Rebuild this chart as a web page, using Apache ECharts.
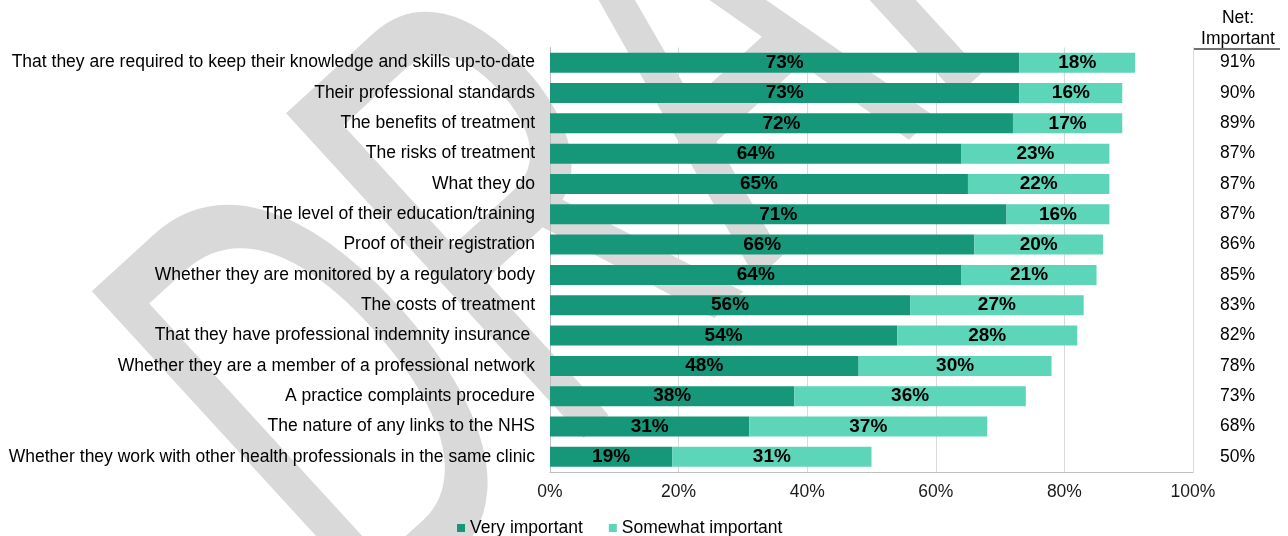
<!DOCTYPE html>
<html>
<head>
<meta charset="utf-8">
<script src="https://cdn.jsdelivr.net/npm/echarts@6/dist/echarts.min.js"></script>
<style>
  html, body { margin: 0; padding: 0; background: #ffffff; }
  #chart { width: 1288px; height: 536px; }
</style>
</head>
<body>
<div id="chart"></div>
<script>
// Survey items, listed top to bottom
const categories = [
  'That they are required to keep their knowledge and skills up-to-date',
  'Their professional standards',
  'The benefits of treatment',
  'The risks of treatment',
  'What they do',
  'The level of their education/training',
  'Proof of their registration',
  'Whether they are monitored by a regulatory body',
  'The costs of treatment',
  'That they have professional indemnity insurance ',
  'Whether they are a member of a professional network',
  'A practice complaints procedure',
  'The nature of any links to the NHS',
  'Whether they work with other health professionals in the same clinic'
];
const veryImportant = [73, 73, 72, 64, 65, 71, 66, 64, 56, 54, 48, 38, 31, 19];
const somewhatImportant = [18, 16, 17, 23, 22, 16, 20, 21, 27, 28, 30, 36, 37, 31];
const netImportant = [91, 90, 89, 87, 87, 87, 86, 85, 83, 82, 78, 73, 68, 50];
const seriesNames = ['Very important', 'Somewhat important'];
const netHeader = 'Net:\nImportant';
const watermarkText = 'DRAFT';

const FONT = "'Liberation Sans', Arial, sans-serif";
const DARK = '#17977a';
const LIGHT = '#5dd5b9';
const TEXT_SIZE = 17.5;

const chart = echarts.init(document.getElementById('chart'), null, { renderer: 'canvas' });

const barLabel = {
  show: true,
  position: 'inside',
  formatter: '{c}%',
  fontFamily: FONT,
  fontWeight: 'bold',
  fontSize: 19,
  color: '#000000'
};

chart.setOption({
  animation: false,
  backgroundColor: '#ffffff',
  textStyle: { fontFamily: FONT },
  graphic: [
    {
      // large diagonal watermark behind the chart, stretched tall and narrow
      type: 'text',
      z: -100,
      silent: true,
      x: 248,
      y: 506,
      rotation: 42.5 * Math.PI / 180,
      scaleX: 0.57,
      scaleY: 1,
      style: {
        text: watermarkText,
        x: 0,
        y: 0,
        align: 'left',
        verticalAlign: 'middle',
        fontFamily: FONT,
        fontSize: 640,
        fill: '#d9d9d9'
      }
    },
    {
      type: 'text',
      silent: true,
      x: 1238,
      y: 29,
      style: {
        text: netHeader,
        align: 'center',
        verticalAlign: 'middle',
        fontFamily: FONT,
        fontSize: TEXT_SIZE,
        lineHeight: 21,
        fill: '#000000'
      }
    },
    {
      type: 'line',
      silent: true,
      shape: { x1: 1193, y1: 49, x2: 1280, y2: 49 },
      style: { stroke: '#404040', lineWidth: 1.3 }
    }
  ],
  legend: {
    left: 452,
    top: 514,
    icon: 'rect',
    itemWidth: 8,
    itemHeight: 8,
    itemGap: 26,
    textStyle: { fontFamily: FONT, fontSize: TEXT_SIZE, color: '#000000' },
    data: seriesNames
  },
  grid: {
    left: 550,
    right: 95,
    top: 47.5,
    bottom: 64,
    containLabel: false
  },
  xAxis: {
    type: 'value',
    min: 0,
    max: 100,
    interval: 20,
    axisLine: { show: true, lineStyle: { color: '#bfbfbf', width: 1 } },
    axisTick: { show: false },
    splitLine: { show: true, lineStyle: { color: '#d9d9d9', width: 1 } },
    axisLabel: {
      formatter: '{value}%',
      fontFamily: FONT,
      fontSize: TEXT_SIZE,
      color: '#1a1a1a',
      margin: 11
    }
  },
  yAxis: [
    {
      type: 'category',
      inverse: true,
      data: categories,
      axisLine: { show: true, lineStyle: { color: '#bfbfbf', width: 1 } },
      axisTick: { show: false },
      axisLabel: {
        fontFamily: FONT,
        fontSize: TEXT_SIZE,
        color: '#000000',
        margin: 15
      }
    },
    {
      type: 'category',
      inverse: true,
      position: 'right',
      data: netImportant.map(v => v + '%'),
      axisLine: { show: true, lineStyle: { color: '#d9d9d9', width: 1 } },
      axisTick: { show: false },
      axisLabel: {
        fontFamily: FONT,
        fontSize: TEXT_SIZE,
        color: '#000000',
        margin: 27
      }
    }
  ],
  series: [
    {
      name: seriesNames[0],
      type: 'bar',
      stack: 'importance',
      barWidth: 20,
      itemStyle: { color: DARK },
      label: barLabel,
      data: veryImportant
    },
    {
      name: seriesNames[1],
      type: 'bar',
      stack: 'importance',
      barWidth: 20,
      itemStyle: { color: LIGHT },
      label: barLabel,
      data: somewhatImportant
    }
  ]
});
</script>
</body>
</html>
